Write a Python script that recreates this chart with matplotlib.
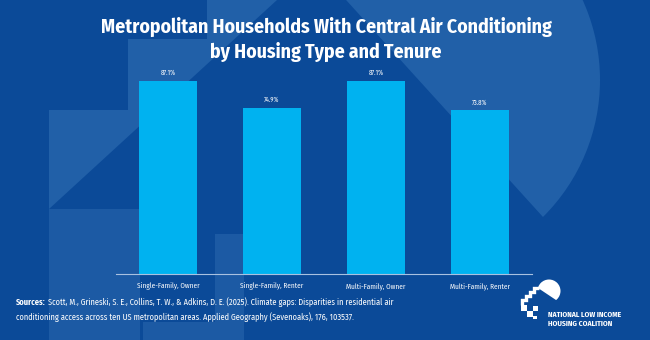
import matplotlib
matplotlib.use("Agg")
import matplotlib.pyplot as plt
from matplotlib.patches import Polygon, Circle, Rectangle

categories = ["Single-Family, Owner", "Single-Family, Renter", "Multi-Family, Owner", "Multi-Family, Renter"]
values = [87.1, 74.9, 87.1, 73.8]
value_labels = ["87.1%", "74.9%", "87.1%", "73.8%"]

title = "Metropolitan Households With Central Air Conditioning\nby Housing Type and Tenure"
source_head = "Sources:"
source_line1 = " Scott, M., Grineski, S. E., Collins, T. W., & Adkins, D. E. (2025). Climate gaps: Disparities in residential air"
source_line2 = "conditioning access across ten US metropolitan areas. Applied Geography (Sevenoaks), 176, 103537."

BG = "#0B4A98"
LIGHT = "#2160A8"
LIGHT2 = "#1C5AA4"
BAR = "#00B2F0"
NARROW = ["Fira Sans Condensed", "Roboto Condensed", "Barlow Condensed", "PT Sans Narrow",
          "Archivo Narrow", "DejaVu Sans"]

W, H = 650, 340
fig = plt.figure(figsize=(W / 100, H / 100), dpi=100)
fig.patch.set_facecolor(BG)

# background decoration, pixel coordinates
bg = fig.add_axes([0, 0, 1, 1])
bg.set_xlim(0, W)
bg.set_ylim(H, 0)
bg.axis("off")
bg.set_zorder(0)

stairs = Polygon([(49, 110), (128, 110), (128, 39), (207, 39), (207, 0), (277, 0), (49, 209)],
                 closed=True, fc=LIGHT, ec="none")
bg.add_patch(stairs)
bg.add_patch(Rectangle((49, 209), 91, 131, fc=LIGHT2, ec="none"))
bg.add_patch(Rectangle((215, 234), 29, 106, fc=LIGHT2, ec="none"))
bg.add_patch(Rectangle((143, 322), 72, 18, fc=LIGHT2, ec="none"))

sun = Circle((407, 80), 193, fc=LIGHT, ec="none")
bg.add_patch(sun)
clip = Polygon([(346, -10), (700, -10), (700, 400), (710, 400), (543, 217), (337, -10)],
               closed=True, transform=bg.transData)
sun.set_clip_path(clip)

# logo
logo_sun = Circle((549, 291), 11.5, fc="white", ec="none")
bg.add_patch(logo_sun)
logo_clip = Polygon([(520, 276), (580, 316), (580, 260), (520, 260)], closed=True,
                    transform=bg.transData)
logo_sun.set_clip_path(logo_clip)
bg.plot([522, 522, 526, 526, 530, 530, 534, 534, 538.5],
        [305, 300, 300, 296, 296, 292, 292, 288, 288], color="white", lw=2.4,
        solid_joinstyle="miter", solid_capstyle="butt")
for (x, y, w, h) in [(521, 305, 6, 6), (527, 311, 6, 6), (533, 306, 5, 5), (533, 316, 4, 3)]:
    bg.add_patch(Rectangle((x, y), w, h, fc="white", ec="none"))
bg.text(548, 315, "NATIONAL LOW INCOME", color="white", fontsize=5.5, fontweight="bold",
        family=NARROW, va="center", ha="left")
bg.text(548, 324, "HOUSING COALITION", color="white", fontsize=5.5, fontweight="bold",
        family=NARROW, va="center", ha="left")

# title
bg.text(326, 39.5, title, color="white", fontsize=14.2, fontweight="bold", family=NARROW,
        ha="center", va="center", linespacing=1.35)

# sources
head = bg.text(16, 302, source_head, color="white", fontsize=6.0, fontweight="bold",
               family=NARROW, va="center", ha="left")
fig.canvas.draw()
ext = head.get_window_extent()
bg.text(16 + ext.width, 302, source_line1, color="white", fontsize=6.0, family=NARROW,
        va="center", ha="left")
bg.text(16, 317.5, source_line2, color="white", fontsize=6.0, family=NARROW,
        va="center", ha="left")

# bar chart
ax = fig.add_axes([116 / W, (H - 274) / H, 416 / W, 221.6 / H])
ax.set_zorder(1)
ax.patch.set_alpha(0)
x = range(len(categories))
bars = ax.bar(x, values, width=0.55, color=BAR, zorder=2)
for b, lab in zip(bars, value_labels):
    ax.text(b.get_x() + b.get_width() / 2, b.get_height() + 3.6, lab, color="white",
            fontsize=4.8, ha="center", va="center", family=NARROW)
ax.set_xlim(-0.5, 3.5)
ax.set_ylim(0, 100)
ax.set_yticks([])
ax.set_xticks(list(x))
ax.set_xticklabels(categories, color="white", fontsize=5.2, family=NARROW)
ax.tick_params(axis="x", length=0, pad=6)
for s in ["top", "right", "left"]:
    ax.spines[s].set_visible(False)
ax.spines["bottom"].set_color("#A9C1E0")
ax.spines["bottom"].set_linewidth(0.8)

fig.savefig("out.png", dpi=100, facecolor=BG)
